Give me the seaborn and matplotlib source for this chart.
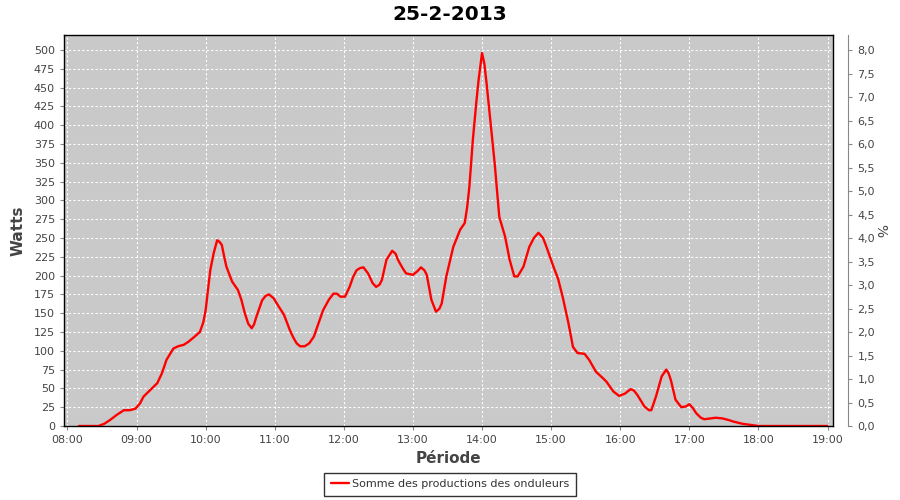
import matplotlib
matplotlib.use("Agg")
import matplotlib.pyplot as plt
import matplotlib.ticker as mticker
import pandas as pd
import seaborn as sns

# temps (HH:MM) et puissance (W)
times = ["08:10", "08:27", "08:32", "08:37", "08:43", "08:49", "08:54", "08:59", "09:03", "09:06",
         "09:12", "09:18", "09:22", "09:26", "09:32", "09:36", "09:41", "09:45", "09:49", "09:55",
         "09:58", "10:00", "10:02", "10:04", "10:07", "10:10", "10:12", "10:14", "10:16", "10:18",
         "10:21", "10:23", "10:28", "10:31", "10:34", "10:37", "10:40", "10:42", "10:44", "10:49",
         "10:52", "10:55", "10:59", "11:03", "11:08", "11:13", "11:16", "11:19", "11:22", "11:26",
         "11:30", "11:34", "11:39", "11:42", "11:47", "11:51", "11:54", "11:57", "12:01", "12:05",
         "12:08", "12:11", "12:14", "12:17", "12:21", "12:25", "12:28", "12:31", "12:33", "12:37",
         "12:42", "12:45", "12:47", "12:51", "12:54", "13:00", "13:04", "13:07", "13:10", "13:12",
         "13:16", "13:20", "13:23", "13:25", "13:29", "13:35", "13:41", "13:45", "13:47", "13:49",
         "13:52", "13:55", "13:57", "14:00", "14:02", "14:04", "14:06", "14:11", "14:15", "14:20",
         "14:24", "14:28", "14:31", "14:36", "14:41", "14:45", "14:49", "14:53", "14:56", "14:59",
         "15:02", "15:06", "15:10", "15:15", "15:19", "15:23", "15:29", "15:33", "15:39", "15:44",
         "15:48", "15:54", "15:59", "16:04", "16:09", "16:12", "16:15", "16:21", "16:25", "16:27",
         "16:31", "16:36", "16:40", "16:42", "16:44", "16:48", "16:53", "16:57", "17:00", "17:03",
         "17:06", "17:10", "17:13", "17:18", "17:23", "17:29", "17:34", "17:38", "17:46", "17:55",
         "18:00", "19:00"]
watts = [0, 0, 3, 8, 15, 21, 21, 23, 30, 39,
         48, 57, 70, 88, 103, 106, 108, 112, 117, 125,
         138, 154, 180, 207, 230, 247, 245, 241, 226, 212,
         200, 192, 181, 168, 150, 136, 130, 135, 145, 167,
         173, 175, 170, 160, 148, 128, 118, 110, 106, 106,
         110, 119, 141, 154, 168, 176, 176, 172, 172, 185,
         198, 207, 210, 211, 203, 190, 185, 188, 194, 221,
         233, 229, 221, 210, 203, 201, 206, 211, 207, 201,
         168, 152, 156, 163, 199, 238, 261, 270, 290, 318,
         380, 430, 460, 496, 482, 455, 425, 349, 278, 252,
         221, 199, 199, 212, 238, 250, 257, 250, 238, 225,
         212, 196, 172, 137, 105, 97, 96, 88, 72, 65,
         59, 46, 40, 43, 49, 47, 41, 26, 21, 21,
         39, 66, 75, 70, 61, 35, 25, 26, 29, 24,
         17, 11, 9, 10, 11, 10, 8, 6, 3, 1,
         0, 0]
hour_ticks = list(range(8, 20))

df = pd.DataFrame({"t": times, "Watts": watts})
df["h"] = df["t"].apply(lambda s: int(s[:2]) + int(s[3:]) / 60)

sns.set_style("white")
plt.rcParams["font.family"] = ["DejaVu Sans"]

fig = plt.figure(figsize=(9, 5), dpi=100)
ax = fig.add_axes([0.0711, 0.148, 0.8545, 0.782])
ax.set_facecolor("#C9C9C9")

sns.lineplot(data=df, x="h", y="Watts", ax=ax, color="#FF0000", linewidth=1.7,
             label="Somme des productions des onduleurs", legend=False)

ax.set_xlim(7.95, 19.08)
ax.set_ylim(0, 520)
ax.set_xticks(hour_ticks)
ax.set_xticklabels([f"{h:02d}:00" for h in hour_ticks])
ax.set_yticks(range(0, 501, 25))
ax.grid(True, color="white", linestyle=(0, (2, 2)), linewidth=0.8)
for s in ax.spines.values():
    s.set_color("black")
    s.set_linewidth(1)
ax.tick_params(axis="both", labelsize=8, labelcolor="#444444", color="#888888",
               length=3, direction="out", left=True, bottom=True)
ax.set_xlabel("Période", fontsize=11, fontweight="bold", color="#444444", labelpad=4)
ax.set_ylabel("Watts", fontsize=11, fontweight="bold", color="#444444", labelpad=6)

ax2 = ax.twinx()
ax2.set_ylim(0, 520 / 62.5)
ax2.set_yticks([i * 0.5 for i in range(17)])
ax2.yaxis.set_major_formatter(mticker.FuncFormatter(lambda v, p: f"{v:.1f}".replace(".", ",")))
ax2.spines["right"].set_position(("outward", 11))
ax2.spines["right"].set_color("#888888")
for k in ["top", "left", "bottom"]:
    ax2.spines[k].set_visible(False)
ax2.tick_params(axis="y", labelsize=8, labelcolor="#444444", color="#888888",
                length=3, direction="out", right=True)
ax2.set_ylabel("%", fontsize=10, color="#444444", rotation=-90, labelpad=9)

fig.suptitle("25-2-2013", fontsize=14.5, fontweight="bold", color="black", y=0.99)

handles, labels = ax.get_legend_handles_labels()
leg = fig.legend(handles, labels, loc="lower center", bbox_to_anchor=(0.5, -0.003),
                 fontsize=8, frameon=True, fancybox=False, handlelength=1.6,
                 borderpad=0.6, handletextpad=0.3)
leg.get_frame().set_edgecolor("black")
leg.get_frame().set_linewidth(1)
for t in leg.get_texts():
    t.set_color("#333333")

fig.savefig("out.png", dpi=100)
